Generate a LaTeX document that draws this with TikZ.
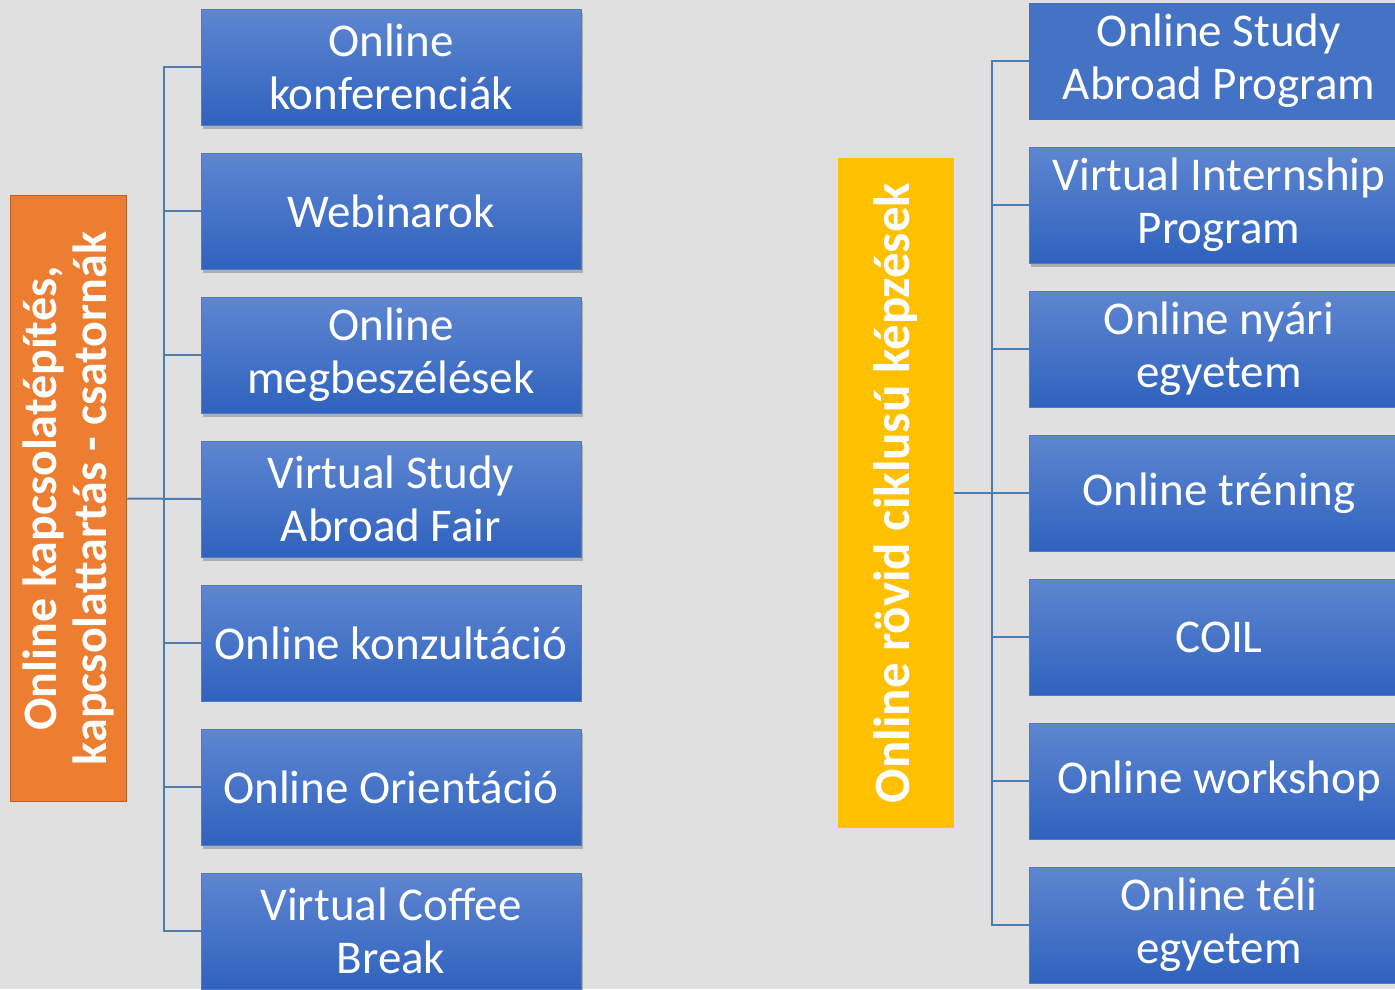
\documentclass[tikz,border=0pt]{standalone}
\usepackage{fontspec}
\setmainfont{Carlito}
\usetikzlibrary{shadows}
\definecolor{bg}{HTML}{E0E0E0}
\definecolor{btop}{HTML}{5E86D1}
\definecolor{bbot}{HTML}{2F62BE}
\definecolor{bflat}{HTML}{4472C4}
\definecolor{bedge}{HTML}{4F7ACB}
\definecolor{lin}{HTML}{4A7EB0}
\definecolor{orng}{HTML}{ED7D31}
\definecolor{orngedge}{HTML}{B8622A}
\definecolor{yel}{HTML}{FFC000}
\tikzset{
  boxbase/.style={rectangle, minimum width=380pt, minimum height=116pt, inner sep=0pt,
    align=center, text=white, draw=bedge, line width=0.8pt,
    font=\fontsize{47}{53}\selectfont},
  gbox/.style={boxbase, top color=btop, bottom color=bbot},
  fbox/.style={boxbase, fill=bflat, draw=bflat},
  shad/.style={drop shadow={shadow xshift=2pt, shadow yshift=-4pt, opacity=0.22, fill=black}},
  conn/.style={draw=lin, line width=2pt},
  vtext/.style={rotate=90, text=white, align=center, inner sep=0pt}
}
\begin{document}
\begin{tikzpicture}[x=1pt,y=-1pt]
\useasboundingbox (0,0) rectangle (1395,989);
\fill[bg] (0,0) rectangle (1395,989);
\clip (0,0) rectangle (1395,989);
% spines
\coordinate (ls) at (164,499);
\coordinate (rs) at (992,493);
% left side
\node[draw=orngedge, fill=orng, line width=1.5pt, minimum width=116pt, minimum height=606pt, inner sep=0pt] (O) at (68.5,498.5) {};
\node[vtext, font=\fontsize{48}{50}\selectfont\bfseries] (Ot) at (O.center) {Online kapcsolatépítés,\\kapcsolattartás - csatornák};
\node[gbox, shad] (L1) at (391,67) {Online\\konferenciák};
\node[gbox, shad] (L2) at (391,211) {Webinarok};
\node[gbox, shad] (L3) at (391,355) {Online\\megbeszélések};
\node[gbox, shad] (L4) at (391,499) {Virtual Study\\Abroad Fair};
\node[gbox] (L5) at (391,643) {Online konzultáció};
\node[gbox, shad] (L6) at (391,787) {Online Orientáció};
\node[gbox, shad] (L7) at (391,931) {Virtual Coffee\\Break};
% right side
\node[fill=yel, minimum width=116pt, minimum height=670pt, inner sep=0pt] (Y) at (896,493) {};
\node[vtext, font=\fontsize{51}{56}\selectfont\bfseries] (Yt) at (Y.center) {Online rövid ciklusú képzések};
\node[fbox] (R1) at (1219,61) {Online Study\\Abroad Program};
\node[gbox, shad] (R2) at (1219,205) {Virtual Internship\\Program};
\node[gbox] (R3) at (1219,349) {Online nyári\\egyetem};
\node[gbox] (R4) at (1219,493) {Online tréning};
\node[gbox] (R5) at (1219,637) {COIL};
\node[gbox] (R6) at (1219,781) {Online workshop};
\node[gbox] (R7) at (1219,925) {Online téli\\egyetem};
% connectors
\draw[conn] (L1.west) -- (L1.west -| ls) -- (L7.west -| ls) -- (L7.west);
\foreach \n in {L2,L3,L4,L5,L6} \draw[conn] (\n.west) -- (\n.west -| ls);
\draw[conn] (O.east) -- (L4.west);
\draw[conn] (R1.west) -- (R1.west -| rs) -- (R7.west -| rs) -- (R7.west);
\foreach \n in {R2,R3,R4,R5,R6} \draw[conn] (\n.west) -- (\n.west -| rs);
\draw[conn] (Y.east) -- (R4.west);
\end{tikzpicture}
\end{document}
